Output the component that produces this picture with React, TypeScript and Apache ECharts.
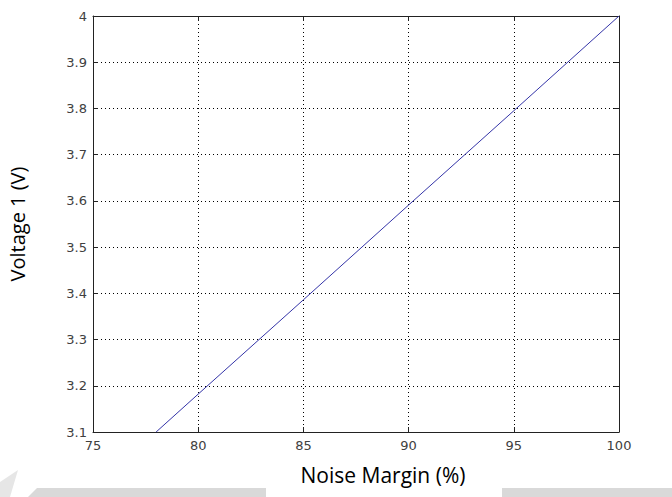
import React, { useEffect, useRef } from "react";
import * as echarts from "echarts";

// Noise margin (%) vs. voltage 1 (V)
const noiseMargin = [78, 80, 85, 90, 95, 100];
const voltage1 = [3.1, 3.182, 3.386, 3.591, 3.795, 4.0];

const xTicks = [75, 80, 85, 90, 95, 100];
const yTicks = [3.1, 3.2, 3.3, 3.4, 3.5, 3.6, 3.7, 3.8, 3.9, 4];

const X_MIN = 75;
const X_MAX = 100;
const Y_MIN = 3.1;
const Y_MAX = 4;

const tickFont = {
  fontFamily: "DejaVu Sans, sans-serif",
  fontSize: 13,
  color: "#404040",
};

const titleFont = {
  fontFamily: "Open Sans, sans-serif",
  fontSize: 20,
  color: "#000",
};

export default function App() {
  const ref = useRef<HTMLDivElement>(null);

  useEffect(() => {
    if (!ref.current) return;
    const chart = echarts.init(ref.current, undefined, { renderer: "svg" });

    const boxLine = { show: true, onZero: false, lineStyle: { color: "#222", width: 1 } };
    const inTick = { show: true, inside: true, length: 5, lineStyle: { color: "#222" } };
    const dotted = { show: true, lineStyle: { color: "#000", type: [1, 3] as any, width: 1 } };

    chart.setOption({
      animation: false,
      backgroundColor: "#fff",
      grid: { left: 93, top: 16, right: 53, bottom: 65, containLabel: false, outerBoundsMode: "none" },
      xAxis: [
        {
          type: "value",
          min: X_MIN,
          max: X_MAX,
          interval: 5,
          position: "bottom",
          axisLine: boxLine,
          axisTick: inTick,
          splitLine: dotted,
          axisLabel: { ...tickFont, margin: 7, formatter: (v: number) => (xTicks.includes(v) ? String(v) : "") },
          name: "Noise Margin (%)",
          nameLocation: "middle",
          nameGap: 32,
          nameTextStyle: { ...titleFont, fontSize: 21, padding: [0, 0, 0, 54] },
        },
        {
          type: "value",
          min: X_MIN,
          max: X_MAX,
          interval: 5,
          position: "top",
          axisLine: boxLine,
          axisTick: inTick,
          splitLine: { show: false },
          axisLabel: { show: false },
        },
      ],
      yAxis: [
        {
          type: "value",
          min: Y_MIN,
          max: Y_MAX,
          interval: 0.1,
          position: "left",
          axisLine: boxLine,
          axisTick: inTick,
          splitLine: dotted,
          axisLabel: {
            ...tickFont,
            margin: 6,
            formatter: (v: number) => {
              const r = Math.round(v * 10) / 10;
              return yTicks.includes(r) ? String(r) : "";
            },
          },
          name: "Voltage 1 (V)",
          nameLocation: "middle",
          nameGap: 66,
          nameTextStyle: titleFont,
        },
        {
          type: "value",
          min: Y_MIN,
          max: Y_MAX,
          interval: 0.1,
          position: "right",
          axisLine: boxLine,
          axisTick: inTick,
          splitLine: { show: false },
          axisLabel: { show: false },
        },
      ],
      series: [
        {
          type: "line",
          xAxisIndex: 0,
          yAxisIndex: 0,
          data: noiseMargin.map((x, i) => [x, voltage1[i]]),
          showSymbol: false,
          lineStyle: { color: "#3434a8", width: 1 },
        },
      ],
      graphic: [
        {
          type: "polygon",
          silent: true,
          shape: { points: [[37, 488], [266, 488], [266, 497], [28, 497]] },
          style: { fill: "#d9d9d9" },
        },
        {
          type: "polygon",
          silent: true,
          shape: { points: [[0, 482], [18, 470], [10, 497], [0, 497]] },
          style: { fill: "#e6e6e6" },
        },
        {
          type: "rect",
          silent: true,
          shape: { x: 502, y: 488, width: 170, height: 9 },
          style: { fill: "#d9d9d9" },
        },
      ],
    });

    return () => chart.dispose();
  }, []);

  return <div ref={ref} style={{ position: "absolute", left: 0, top: 0, width: 672, height: 497 }} />;
}
